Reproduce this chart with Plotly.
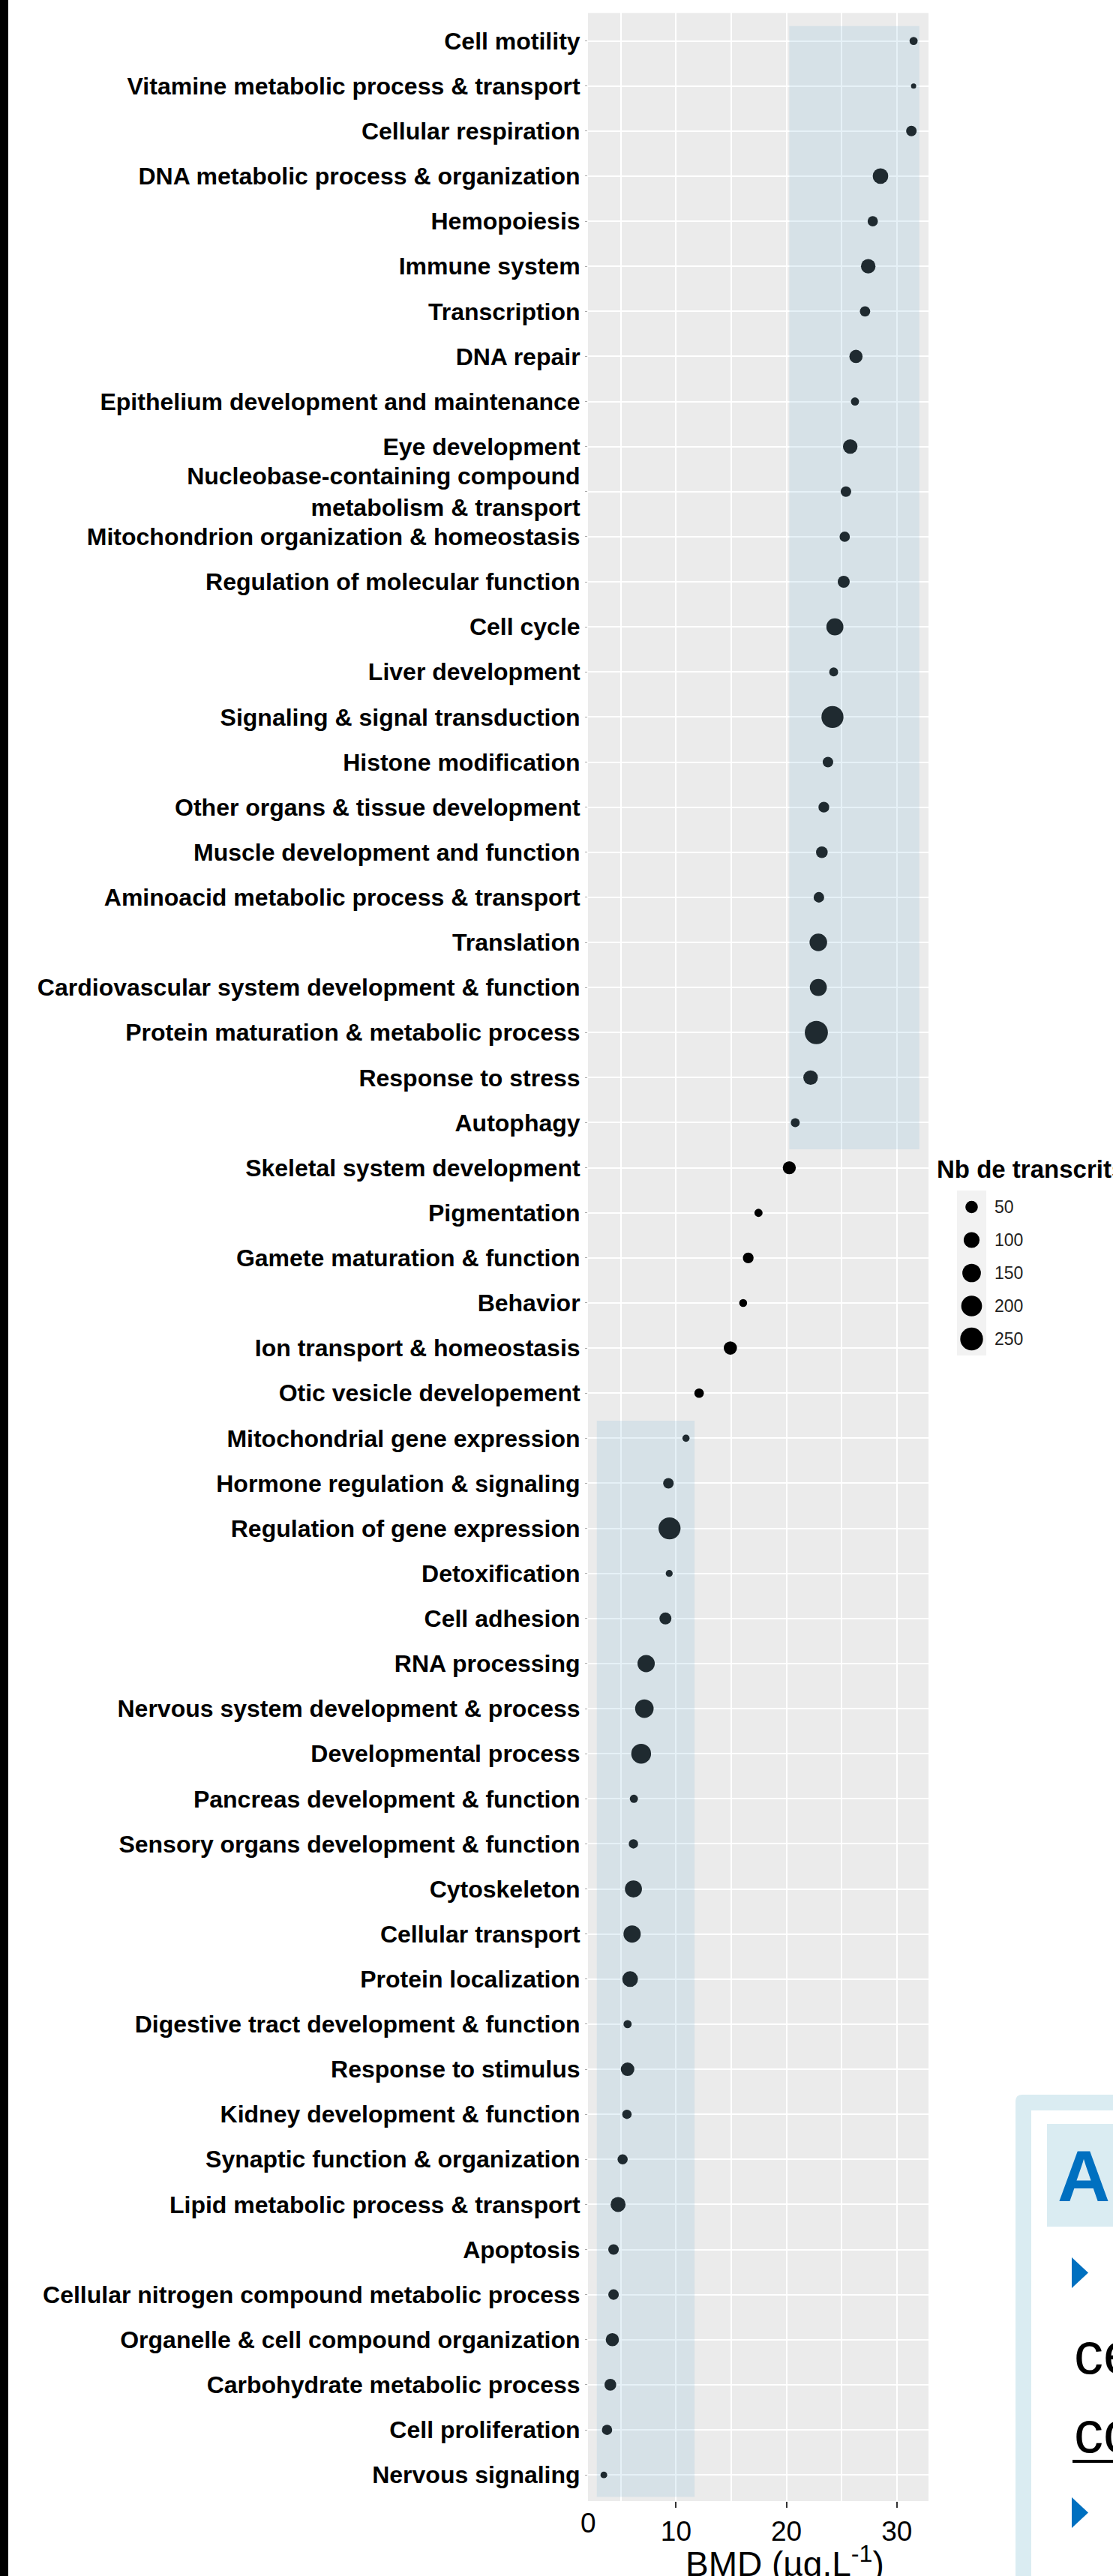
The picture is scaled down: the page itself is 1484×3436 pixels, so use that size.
import numpy as np
import plotly.graph_objects as go

# ---------------- data (top to bottom) ----------------
categories = [
    "Cell motility", "Vitamine metabolic process & transport", "Cellular respiration",
    "DNA metabolic process & organization", "Hemopoiesis", "Immune system", "Transcription",
    "DNA repair", "Epithelium development and maintenance", "Eye development",
    "Nucleobase-containing compound<br>metabolism & transport",
    "Mitochondrion organization & homeostasis", "Regulation of molecular function",
    "Cell cycle", "Liver development", "Signaling & signal transduction",
    "Histone modification", "Other organs & tissue development",
    "Muscle development and function", "Aminoacid metabolic process & transport",
    "Translation", "Cardiovascular system development & function",
    "Protein maturation & metabolic process", "Response to stress", "Autophagy",
    "Skeletal system development", "Pigmentation", "Gamete maturation & function",
    "Behavior", "Ion transport & homeostasis", "Otic vesicle developement",
    "Mitochondrial gene expression", "Hormone regulation & signaling",
    "Regulation of gene expression", "Detoxification", "Cell adhesion", "RNA processing",
    "Nervous system development & process", "Developmental process",
    "Pancreas development & function", "Sensory organs development & function",
    "Cytoskeleton", "Cellular transport", "Protein localization",
    "Digestive tract development & function", "Response to stimulus",
    "Kidney development & function", "Synaptic function & organization",
    "Lipid metabolic process & transport", "Apoptosis",
    "Cellular nitrogen compound metabolic process", "Organelle & cell compound organization",
    "Carbohydrate metabolic process", "Cell proliferation", "Nervous signaling",
]

bmd = [31.52, 31.52, 31.32, 28.52, 27.82, 27.41, 27.12, 26.30, 26.21, 25.78,
       25.39, 25.28, 25.19, 24.39, 24.28, 24.17, 23.76, 23.39, 23.21, 22.94,
       22.89, 22.89, 22.71, 22.19, 20.80, 20.26, 17.47, 16.54, 16.08, 14.92,
       12.09, 10.90, 9.31, 9.41, 9.38, 9.04, 7.29, 7.13, 6.84, 6.18,
       6.14, 6.14, 6.02, 5.84, 5.61, 5.61, 5.55, 5.16, 4.75, 4.34,
       4.34, 4.23, 4.05, 3.75, 3.46]

n_transcripts = [12, 1, 30, 94, 28, 78, 28, 60, 12, 78,
                 30, 28, 45, 120, 17, 231, 30, 32, 42, 30,
                 130, 120, 259, 78, 17, 58, 12, 32, 11, 60,
                 21, 7, 30, 231, 6, 45, 124, 149, 177, 12,
                 20, 120, 124, 97, 12, 64, 20, 26, 85, 30,
                 30, 60, 42, 28, 5]

legend_values = [50, 100, 150, 200, 250]
x_major_ticks = [10, 20, 30]
x_minor_ticks = [5, 15, 25]

# ---------------- layout constants ----------------
W, H = 1484, 3436
FONT = "Liberation Sans, Arial, sans-serif"

# shaded zones in data units (x = BMD, y = category index, 1 = bottom)
ZONE_HIGH = (20.26, 32.04, 30.41, 55.33)
ZONE_LOW = (2.82, 11.68, 0.51, 24.39)
ZONE_FILL = "rgba(140,190,217,0.22)"
X_RANGE = [2.024, 32.87]
Y_RANGE = [0.42, 55.62]


def px_x(px):
    return px / W


def px_y(py):
    return 1 - py / H


def marker_diameter(n):
    n = np.asarray(n, dtype=float)
    return 5.42 + 1.578 * np.sqrt(n)


y_pos = np.arange(len(categories), 0, -1)

fig = go.Figure()
fig.add_trace(go.Scatter(
    x=bmd, y=y_pos, mode="markers",
    marker=dict(size=marker_diameter(n_transcripts), color="black", opacity=1,
                line=dict(width=0)),
    showlegend=False, hoverinfo="skip",
))

# manual size legend (keys drawn from legend values through the same size scale)
leg_y = list(range(1, len(legend_values) + 1))
fig.add_trace(go.Scatter(
    x=[0] * len(legend_values), y=leg_y, mode="markers", xaxis="x2", yaxis="y2",
    marker=dict(size=marker_diameter(legend_values), color="black", opacity=1,
                line=dict(width=0)),
    showlegend=False, hoverinfo="skip",
))

shapes = []
for (x0, x1, y0, y1) in (ZONE_HIGH, ZONE_LOW):
    shapes.append(dict(type="rect", xref="x", yref="y", x0=x0, x1=x1, y0=y0, y1=y1,
                       fillcolor=ZONE_FILL, line=dict(width=0), layer="above"))
# legend key background
shapes.append(dict(type="rect", xref="x2 domain", yref="y2 domain", x0=0, x1=1, y0=0, y1=1,
                   fillcolor="#F2F2F2", line=dict(width=0), layer="below"))
# black strip at left edge of the screenshot
shapes.append(dict(type="rect", xref="paper", yref="paper", x0=0, x1=px_x(11), y0=0, y1=1,
                   fillcolor="black", line=dict(width=0), layer="above"))

# slide box fragment at bottom right
LB = "#DAECF2"
BLUE = "#0070C0"
r = 9
bx, by = 1354, 2794
path = (f"M {px_x(bx)},{px_y(by + r)} Q {px_x(bx)},{px_y(by)} {px_x(bx + r)},{px_y(by)} "
        f"L {px_x(W + 5)},{px_y(by)} L {px_x(W + 5)},{px_y(H + 5)} L {px_x(bx)},{px_y(H + 5)} Z")
shapes.append(dict(type="path", xref="paper", yref="paper", path=path,
                   fillcolor=LB, line=dict(width=0), layer="above"))
shapes.append(dict(type="rect", xref="paper", yref="paper", x0=px_x(1375), x1=px_x(W + 5),
                   y0=px_y(2815), y1=px_y(H + 5), fillcolor="white", line=dict(width=0), layer="above"))
shapes.append(dict(type="rect", xref="paper", yref="paper", x0=px_x(1396), x1=px_x(W + 5),
                   y0=px_y(2833), y1=px_y(2970), fillcolor=LB, line=dict(width=0), layer="above"))
for ty in (3011, 3331):
    tri = (f"M {px_x(1429)},{px_y(ty)} L {px_x(1451)},{px_y(ty + 20.5)} "
           f"L {px_x(1429)},{px_y(ty + 41)} Z")
    shapes.append(dict(type="path", xref="paper", yref="paper", path=tri,
                       fillcolor=BLUE, line=dict(width=0), layer="above"))
shapes.append(dict(type="line", xref="paper", yref="paper", x0=px_x(1430), x1=px_x(W + 5),
                   y0=px_y(3283), y1=px_y(3283), line=dict(color="black", width=4), layer="above"))

annotations = [
    dict(text="0", xref="x domain", yref="paper", x=0, y=px_y(3365), xanchor="center",
         yanchor="middle", showarrow=False, font=dict(family=FONT, size=37, color="black")),
    dict(text="BMD (µg.L<sup>-1</sup>)", xref="paper", yref="paper", x=px_x(1046), y=px_y(3417),
         xanchor="center", yanchor="middle", showarrow=False,
         font=dict(family=FONT, size=46, color="black")),
    dict(text="<b>Nb de transcrits</b>", xref="paper", yref="paper", x=px_x(1247), y=px_y(1560),
         xanchor="left", yanchor="middle", showarrow=False,
         font=dict(family=FONT, size=33, color="black")),
    dict(text="<b>A</b>", xref="paper", yref="paper", x=px_x(1408), y=px_y(2902),
         xanchor="left", yanchor="middle", showarrow=False,
         font=dict(family=FONT, size=97, color=BLUE)),
    dict(text="ce", xref="paper", yref="paper", x=px_x(1430), y=px_y(3139),
         xanchor="left", yanchor="middle", showarrow=False,
         font=dict(family=FONT, size=78, color="black")),
    dict(text="co", xref="paper", yref="paper", x=px_x(1430), y=px_y(3244),
         xanchor="left", yanchor="middle", showarrow=False,
         font=dict(family=FONT, size=78, color="black")),
]

fig.update_layout(
    width=W, height=H,
    margin=dict(l=0, r=0, t=0, b=0, pad=0),
    paper_bgcolor="white", plot_bgcolor="#EBEBEB",
    font=dict(family=FONT, color="black"),
    xaxis=dict(
        domain=[px_x(784), px_x(1238)], range=X_RANGE, anchor="y",
        tickmode="array", tickvals=x_major_ticks, ticktext=[str(v) for v in x_major_ticks],
        ticks="outside", ticklen=8, tickwidth=2, tickcolor="#333333",
        tickfont=dict(family=FONT, size=37, color="black"),
        showgrid=True, gridcolor="white", gridwidth=2,
        minor=dict(tickmode="array", tickvals=x_minor_ticks, showgrid=True,
                   gridcolor="white", gridwidth=2, ticks=""),
        zeroline=False, showline=False, fixedrange=True,
    ),
    yaxis=dict(
        domain=[px_y(3336), px_y(17.3)], range=Y_RANGE, anchor="x",
        tickmode="array", tickvals=y_pos, ticktext=categories,
        ticks="outside", ticklen=3, tickwidth=1, tickcolor="#AAAAAA",
        ticklabelstandoff=0,
        tickfont=dict(family=FONT, size=32, color="black", weight="bold"),
        showgrid=True, gridcolor="white", gridwidth=2,
        zeroline=False, showline=False, fixedrange=True,
    ),
    xaxis2=dict(domain=[px_x(1276), px_x(1315)], range=[-1, 1], anchor="y2",
                visible=False, fixedrange=True),
    yaxis2=dict(domain=[px_y(1808), px_y(1588)], range=[5.5, 0.5], anchor="x2", side="right",
                tickmode="array", tickvals=leg_y, ticktext=[str(v) for v in legend_values],
                ticks="", showgrid=False, zeroline=False, showline=False,
                ticklabelstandoff=10,
                tickfont=dict(family=FONT, size=23, color="#222222"), fixedrange=True),
    shapes=shapes,
    annotations=annotations,
)

fig.write_html("out.html", post_script="document.body.style.margin='0';",
               config={"displayModeBar": False})
